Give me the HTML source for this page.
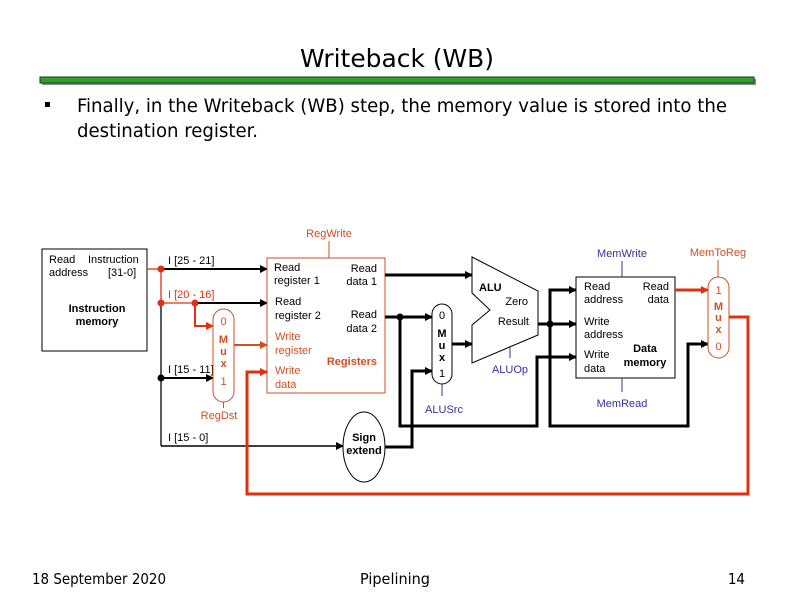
<!DOCTYPE html>
<html><head><meta charset="utf-8"><style>
html,body{margin:0;padding:0;background:#fff;}
svg{display:block;}
</style></head><body>
<svg width="792" height="612" viewBox="0 0 792 612" xmlns="http://www.w3.org/2000/svg" font-family="Liberation Sans, Arial, sans-serif">
<defs>
<marker id="ab" markerWidth="8" markerHeight="8" refX="7" refY="4" orient="auto" markerUnits="userSpaceOnUse"><path d="M0,0 L8,4 L0,8 z" fill="#000"/></marker>
<marker id="ar" markerWidth="8" markerHeight="8" refX="7" refY="4" orient="auto" markerUnits="userSpaceOnUse"><path d="M0,0 L8,4 L0,8 z" fill="#e03010"/></marker>
<marker id="ao" markerWidth="8" markerHeight="8" refX="7" refY="4" orient="auto" markerUnits="userSpaceOnUse"><path d="M0,0 L8,4 L0,8 z" fill="#d05020"/></marker>
</defs>
<!-- title -->
<text x="300" y="67" font-size="25" textLength="194" lengthAdjust="spacingAndGlyphs" font-family="DejaVu Sans Condensed, DejaVu Sans, sans-serif">Writeback (WB)</text>
<rect x="42" y="79" width="714" height="6" fill="#888"/>
<rect x="40" y="77" width="714" height="6" fill="#2ea02e" stroke="#1a3a1a" stroke-width="1"/>
<rect x="45" y="102" width="5" height="5" fill="#000"/>
<text x="77" y="112" font-size="19" textLength="650" lengthAdjust="spacingAndGlyphs" font-family="DejaVu Sans Condensed, DejaVu Sans, sans-serif">Finally, in the Writeback (WB) step, the memory value is stored into the</text>
<text x="77" y="137" font-size="19" textLength="181" lengthAdjust="spacingAndGlyphs" font-family="DejaVu Sans Condensed, DejaVu Sans, sans-serif">destination register.</text>

<g font-size="11">
<rect x="42" y="249" width="105" height="102" fill="#fff" stroke="#000"/>
<text x="49" y="263">Read</text><text x="88" y="263">Instruction</text>
<text x="49" y="276">address</text><text x="108" y="276">[31-0]</text>
<text x="97" y="312" font-weight="bold" text-anchor="middle">Instruction</text>
<text x="97" y="325" font-weight="bold" text-anchor="middle">memory</text>

<line x1="147" y1="269" x2="161" y2="269" stroke="#e03010" stroke-width="1.3"/>
<line x1="161" y1="269" x2="161" y2="303" stroke="#e03010" stroke-width="1.3"/>
<line x1="161" y1="303" x2="195" y2="303" stroke="#e03010" stroke-width="1.3"/>
<line x1="161" y1="303" x2="161" y2="446" stroke="#000" stroke-width="1.3"/>
<line x1="161" y1="269" x2="267" y2="269" stroke="#000" stroke-width="2" marker-end="url(#ab)"/>
<line x1="195" y1="303" x2="267" y2="303" stroke="#000" stroke-width="2" marker-end="url(#ab)"/>
<polyline points="195,303 195,326 213,326" fill="none" stroke="#e03010" stroke-width="2" marker-end="url(#ar)"/>
<line x1="161" y1="378" x2="213" y2="378" stroke="#000" stroke-width="2" marker-end="url(#ab)"/>
<line x1="161" y1="446" x2="343" y2="446" stroke="#000" stroke-width="1.5" marker-end="url(#ab)"/>
<circle cx="161" cy="269" r="3.5" fill="#e03010"/>
<circle cx="161" cy="303" r="3.5" fill="#e03010"/>
<circle cx="195" cy="303" r="3.5" fill="#e03010"/>
<circle cx="161" cy="378" r="3.5" fill="#000"/>
<text x="168" y="264">I [25 - 21]</text>
<text x="168" y="298" fill="#e03010">I [20 - 16]</text>
<text x="168" y="373">I [15 - 11]</text>
<text x="168" y="441">I [15 - 0]</text>

<rect x="213" y="309" width="21" height="93" rx="10.5" fill="#fff" stroke="#d05020"/>
<text x="223.5" y="325" text-anchor="middle" fill="#d05020">0</text>
<text x="223.5" y="343" text-anchor="middle" fill="#d05020" font-weight="bold">M</text>
<text x="223.5" y="355" text-anchor="middle" fill="#d05020" font-weight="bold">u</text>
<text x="223.5" y="367" text-anchor="middle" fill="#d05020" font-weight="bold">x</text>
<text x="223.5" y="385" text-anchor="middle" fill="#d05020">1</text>
<line x1="223.5" y1="402" x2="223.5" y2="408" stroke="#d05020"/>
<text x="219" y="419" text-anchor="middle" fill="#d05020">RegDst</text>
<line x1="234" y1="345" x2="267" y2="345" stroke="#d05020" stroke-width="2" marker-end="url(#ao)"/>

<rect x="267" y="258" width="118" height="135" fill="#fff" stroke="#d05020"/>
<text x="329" y="237" text-anchor="middle" fill="#d05020">RegWrite</text>
<line x1="329" y1="241" x2="329" y2="258" stroke="#d05020"/>
<text x="274" y="271">Read</text><text x="274" y="284">register 1</text>
<text x="377" y="272" text-anchor="end">Read</text><text x="377" y="285" text-anchor="end">data 1</text>
<text x="275" y="305">Read</text><text x="275" y="319">register 2</text>
<text x="377" y="318" text-anchor="end">Read</text><text x="377" y="332" text-anchor="end">data 2</text>
<text x="275" y="340" fill="#d05020">Write</text><text x="275" y="354" fill="#d05020">register</text>
<text x="275" y="374" fill="#d05020">Write</text><text x="275" y="388" fill="#d05020">data</text>
<text x="377" y="365" text-anchor="end" fill="#d05020" font-weight="bold">Registers</text>

<ellipse cx="364" cy="447" rx="21" ry="35" fill="#fff" stroke="#000"/>
<text x="364" y="441" text-anchor="middle" font-weight="bold">Sign</text>
<text x="364" y="454" text-anchor="middle" font-weight="bold">extend</text>

<line x1="385" y1="275" x2="472" y2="275" stroke="#000" stroke-width="3" marker-end="url(#ab)"/>
<line x1="385" y1="317" x2="432" y2="317" stroke="#000" stroke-width="3" marker-end="url(#ab)"/>
<circle cx="400" cy="317" r="3.5" fill="#000"/>
<polyline points="400,317 400,426 537,426 537,357 576,357" fill="none" stroke="#000" stroke-width="3" marker-end="url(#ab)"/>
<polyline points="385,447 412,447 412,371 432,371" fill="none" stroke="#000" stroke-width="3" marker-end="url(#ab)"/>

<rect x="432" y="304" width="20" height="80" rx="10" fill="#fff" stroke="#000"/>
<text x="442" y="319" text-anchor="middle">0</text>
<text x="442" y="337" text-anchor="middle" font-weight="bold">M</text>
<text x="442" y="349" text-anchor="middle" font-weight="bold">u</text>
<text x="442" y="361" text-anchor="middle" font-weight="bold">x</text>
<text x="442" y="377" text-anchor="middle">1</text>
<line x1="442" y1="384" x2="442" y2="396" stroke="#333399"/>
<text x="444" y="413" text-anchor="middle" fill="#333399">ALUSrc</text>
<line x1="452" y1="344" x2="472" y2="344" stroke="#000" stroke-width="3" marker-end="url(#ab)"/>

<polygon points="472,257 538,291 538,335 472,363 472,325 490,310 472,293" fill="#fff" stroke="#000"/>
<text x="479" y="291" font-weight="bold">ALU</text>
<text x="528" y="305" text-anchor="end">Zero</text>
<text x="529" y="325" text-anchor="end">Result</text>
<line x1="510" y1="346" x2="510" y2="358" stroke="#333399"/>
<text x="510" y="373" text-anchor="middle" fill="#333399">ALUOp</text>

<line x1="538" y1="324" x2="576" y2="324" stroke="#000" stroke-width="3" marker-end="url(#ab)"/>
<circle cx="550" cy="324" r="3.5" fill="#000"/>
<polyline points="576,290 550,290 550,426 688,426 688,344 708,344" fill="none" stroke="#000" stroke-width="3" marker-end="url(#ab)"/>
<line x1="560" y1="290" x2="576" y2="290" stroke="#000" stroke-width="3" marker-end="url(#ab)"/>

<rect x="576" y="277" width="99" height="101" fill="#fff" stroke="#000"/>
<text x="622" y="257" text-anchor="middle" fill="#333399">MemWrite</text>
<line x1="622" y1="261" x2="622" y2="277" stroke="#333399"/>
<text x="584" y="290">Read</text><text x="584" y="303">address</text>
<text x="669" y="290" text-anchor="end">Read</text><text x="669" y="303" text-anchor="end">data</text>
<text x="584" y="325">Write</text><text x="584" y="338">address</text>
<text x="584" y="358">Write</text><text x="584" y="372">data</text>
<text x="645" y="352" text-anchor="middle" font-weight="bold">Data</text>
<text x="645" y="366" text-anchor="middle" font-weight="bold">memory</text>
<line x1="622" y1="378" x2="622" y2="392" stroke="#333399"/>
<text x="622" y="407" text-anchor="middle" fill="#333399">MemRead</text>

<line x1="675" y1="290" x2="708" y2="290" stroke="#e03010" stroke-width="3" marker-end="url(#ar)"/>
<rect x="708" y="277" width="21" height="81" rx="10.5" fill="#fff" stroke="#d05020"/>
<text x="718" y="256" text-anchor="middle" fill="#d05020">MemToReg</text>
<line x1="718" y1="260" x2="718" y2="277" stroke="#d05020"/>
<text x="718.5" y="294" text-anchor="middle" fill="#d05020">1</text>
<text x="718.5" y="310" text-anchor="middle" fill="#d05020" font-weight="bold">M</text>
<text x="718.5" y="321" text-anchor="middle" fill="#d05020" font-weight="bold">u</text>
<text x="718.5" y="333" text-anchor="middle" fill="#d05020" font-weight="bold">x</text>
<text x="718.5" y="350" text-anchor="middle" fill="#d05020">0</text>

<polyline points="729,317 748,317 748,494 247,494 247,372 267,372" fill="none" stroke="#e03010" stroke-width="3" marker-end="url(#ar)"/>
</g>

<g font-family="DejaVu Sans Condensed, DejaVu Sans, sans-serif" font-size="15">
<text x="32" y="584" textLength="134" lengthAdjust="spacingAndGlyphs">18 September 2020</text>
<text x="360" y="584" textLength="70" lengthAdjust="spacingAndGlyphs">Pipelining</text>
<text x="745" y="584" text-anchor="end">14</text>
</g>
</svg>
</body></html>
